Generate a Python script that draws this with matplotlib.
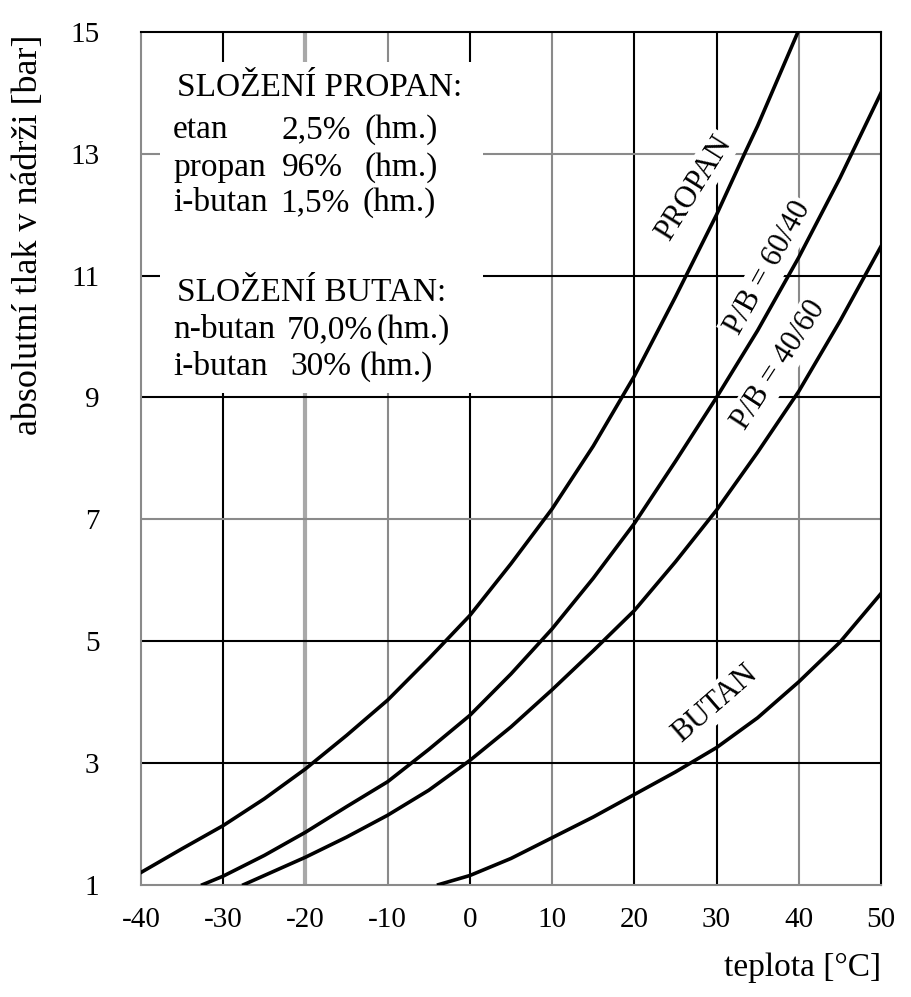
import matplotlib
matplotlib.use("Agg")
import matplotlib.pyplot as plt
from matplotlib.patches import Rectangle

# tlak par LPG podle teploty
t_propan = [-40, -35, -30, -25, -20, -15, -10, -5, 0, 5, 10, 15, 20, 25, 30, 33.4, 35, 39.9]
p_propan = [1.20, 1.59, 1.97, 2.41, 2.90, 3.45, 4.03, 4.71, 5.42, 6.27, 7.17, 8.2, 9.35,
            10.65, 12.0, 13.0, 13.46, 15.0]

t_6040 = [-32.5, -30, -25, -20, -15, -10, -5, 0, 5, 10, 15, 20, 25, 30, 35, 40, 45, 50]
p_6040 = [1.0, 1.14, 1.48, 1.86, 2.28, 2.69, 3.22, 3.78, 4.46, 5.2, 6.03, 6.93, 7.95, 9.0,
          10.1, 11.3, 12.6, 14.0]

t_4060 = [-27.5, -25, -20, -15, -10, -5, 0, 5, 10, 15, 20, 25, 30, 35, 40, 45, 50]
p_4060 = [1.0, 1.15, 1.45, 1.78, 2.14, 2.55, 3.04, 3.59, 4.2, 4.84, 5.5, 6.3, 7.15, 8.1,
          9.1, 10.25, 11.48]

t_butan = [-3.8, 0, 5, 10, 15, 20, 25, 30, 35, 40, 45, 50]
p_butan = [1.0, 1.15, 1.43, 1.77, 2.11, 2.48, 2.85, 3.25, 3.74, 4.33, 4.98, 5.78]

xticks = [-40, -30, -20, -10, 0, 10, 20, 30, 40, 50]
xtick_labels = ["-40", "-30", "-20", "-10", "0", "10", "20", "30", "40", "50"]
yticks = [1, 3, 5, 7, 9, 11, 13, 15]

# mrizka: cerne / sede cary
vx_black = [-30, 0, 20, 30]
vx_gray = [-10, 10, 40]
vx_light = [-20]
hy_black = [3, 5, 9, 11]
hy_gray = [7, 13]

plt.rcParams["font.family"] = ["Liberation Serif", "DejaVu Serif"]

fig = plt.figure(figsize=(9.12, 9.97), dpi=100)
ax = fig.add_axes([0.1546, 0.1127, 0.8114, 0.8552])
ax.set_xlim(-40, 50)
ax.set_ylim(1, 15)

for x in vx_black:
    ax.axvline(x, color="black", lw=1.5, zorder=1)
for x in vx_gray:
    ax.axvline(x, color="#8a8a8a", lw=1.5, zorder=1)
for x in vx_light:
    ax.axvline(x, color="#a8a8a8", lw=3, zorder=1)
for y in hy_black:
    ax.axhline(y, color="black", lw=1.5, zorder=1)
for y in hy_gray:
    ax.axhline(y, color="#8a8a8a", lw=1.5, zorder=1)

for side in ["left", "bottom"]:
    ax.spines[side].set_color("#8a8a8a")
    ax.spines[side].set_linewidth(1.5)
for side in ["top", "right"]:
    ax.spines[side].set_color("black")
    ax.spines[side].set_linewidth(1.5)

# krivky
for t, p in [(t_propan, p_propan), (t_6040, p_6040), (t_4060, p_4060), (t_butan, p_butan)]:
    ax.plot(t, p, color="black", lw=2.6, zorder=4, solid_joinstyle="round")

# bile pole pro slozeni
ax.add_patch(Rectangle((0.026, 0.5766), 0.436, 0.388, transform=ax.transAxes,
                       facecolor="white", edgecolor="none", zorder=2))

fs = 24
lines = [
    (0.9343, [(0.0486, "SLOŽENÍ PROPAN:")]),
    (0.8851, [(0.0432, "etan"), (0.1905, "2,5%"), (0.3027, "(hm.)")]),
    (0.8405, [(0.0432, "propan"), (0.1905, "96%"), (0.3027, "(hm.)")]),
    (0.7995, [(0.0432, "i-butan"), (0.1878, "1,5%"), (0.3000, "(hm.)")]),
    (0.6939, [(0.0486, "SLOŽENÍ BUTAN:")]),
    (0.6506, [(0.0432, "n-butan"), (0.1973, "70,0%"), (0.3189, "(hm.)")]),
    (0.6072, [(0.0432, "i-butan"), (0.2014, "30%"), (0.2959, "(hm.)")]),
]
for yy, parts in lines:
    for xx, s in parts:
        ax.text(xx, yy, s, transform=ax.transAxes, fontsize=fs, ha="left",
                va="center", zorder=3)

# popisky krivek
box = dict(facecolor="white", edgecolor="none", pad=2)
ax.text(27.26, 12.44, "PROPAN", rotation=58, fontsize=22, ha="center",
        va="center", rotation_mode="anchor", bbox=box, zorder=3)
ax.text(36.3, 11.12, "P/B = 60/40", rotation=61, fontsize=22, ha="center",
        va="center", rotation_mode="anchor", bbox=box, zorder=3)
ax.text(37.6, 9.53, "P/B = 40/60", rotation=57, fontsize=22, ha="center",
        va="center", rotation_mode="anchor", bbox=box, zorder=3)
ax.text(29.8, 3.97, "BUTAN", rotation=41, fontsize=22, ha="center",
        va="center", rotation_mode="anchor", bbox=box, zorder=3)

ax.set_xticks(xticks, labels=xtick_labels)
ax.set_yticks(yticks)
ax.tick_params(axis="both", length=0, labelsize=21)
ax.tick_params(axis="y", pad=30)
ax.tick_params(axis="x", pad=16)

ax.set_xlabel("teplota [°C]", fontsize=24, loc="right", labelpad=14)
ax.set_ylabel("absolutní tlak v nádrži [bar]", fontsize=26)
ax.yaxis.set_label_coords(-0.13, 0.762)

fig.savefig("out.png", dpi=100)
plt.close(fig)
